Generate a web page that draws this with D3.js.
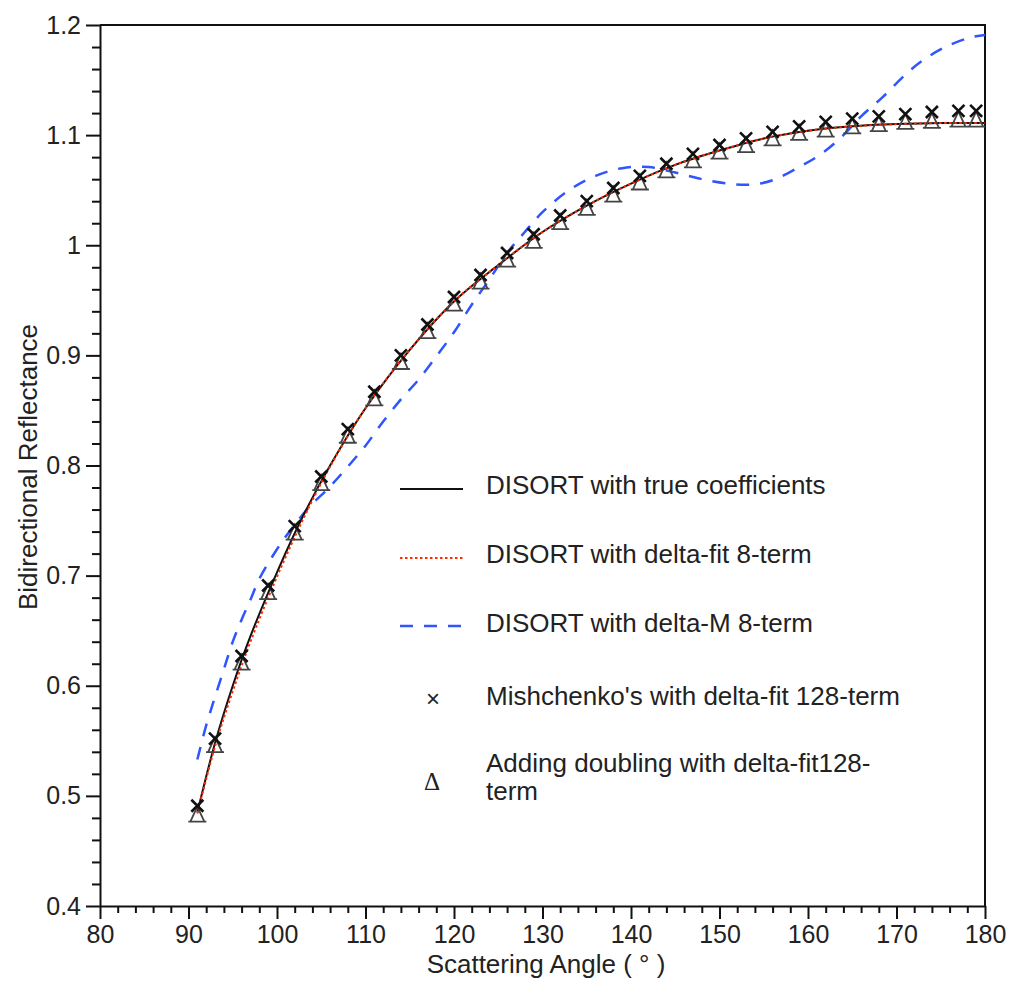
<!DOCTYPE html>
<html lang="en">
<head>
<meta charset="utf-8">
<title>Bidirectional Reflectance</title>
<script src="https://d3js.org/d3.v7.min.js"></script>
<style>
  body { margin: 0; background: #fff; }
  svg text { font-family: "Liberation Sans", Arial, Helvetica, sans-serif; fill: #222; }
</style>
</head>
<body>
<script>
// scattering angles for the markers
var markerAngles = [91, 93, 96, 99, 102, 105, 108, 111, 114, 117, 120, 123, 126, 129, 132, 135,
  138, 141, 144, 147, 150, 153, 156, 159, 162, 165, 168, 171, 174, 177, 179];
// Mishchenko's with delta-fit 128-term (x)
var mishchenko = [0.491, 0.552, 0.627, 0.691, 0.745, 0.790, 0.833, 0.867, 0.900, 0.928, 0.953, 0.973,
  0.993, 1.010, 1.027, 1.040, 1.052, 1.063, 1.074, 1.083, 1.091, 1.097, 1.103, 1.108, 1.112, 1.115,
  1.117, 1.119, 1.121, 1.122, 1.122];
// Adding doubling with delta-fit 128-term (triangle)
var addingDoubling = [0.483, 0.546, 0.621, 0.685, 0.739, 0.784, 0.827, 0.861, 0.894, 0.922, 0.947, 0.967,
  0.987, 1.004, 1.021, 1.034, 1.046, 1.057, 1.068, 1.077, 1.085, 1.091, 1.097, 1.102, 1.105, 1.108,
  1.110, 1.112, 1.113, 1.114, 1.114];

// DISORT with true coefficients
var trueAngles = [91, 93, 95, 97, 100, 103, 106, 110, 115, 120, 125, 130, 135, 140, 145, 150, 155, 160, 165, 170, 175, 180];
var trueValues = [0.485, 0.548, 0.600, 0.645, 0.703, 0.755, 0.800, 0.852, 0.905, 0.949, 0.982, 1.012,
  1.036, 1.056, 1.073, 1.086, 1.097, 1.104, 1.108, 1.110, 1.111, 1.111];
// DISORT with delta-fit 8-term
var fitValues = [0.484, 0.545, 0.595, 0.640, 0.699, 0.752, 0.799, 0.852, 0.905, 0.949, 0.982, 1.012,
  1.036, 1.056, 1.073, 1.086, 1.097, 1.104, 1.108, 1.110, 1.111, 1.111];
// DISORT with delta-M 8-term
var deltaMAngles = [91, 92, 93, 94, 95, 96, 97, 98, 100, 101.5, 103.5, 106, 108, 110, 112, 114, 116, 118,
  120, 122, 124, 126, 128, 130, 133, 136, 139, 142, 145, 148, 151, 153.5, 156, 159, 161.5, 164, 166,
  168.5, 171, 173, 175.5, 178.5, 180];
var deltaMValues = [0.533, 0.564, 0.590, 0.615, 0.640, 0.660, 0.678, 0.697, 0.724, 0.741, 0.761, 0.781,
  0.799, 0.818, 0.840, 0.860, 0.878, 0.899, 0.921, 0.946, 0.969, 0.993, 1.012, 1.030, 1.050, 1.063,
  1.070, 1.071, 1.066, 1.060, 1.056, 1.055, 1.059, 1.071, 1.083, 1.100, 1.117, 1.135, 1.155, 1.168,
  1.180, 1.189, 1.191];

var yTicks = [0.4, 0.5, 0.6, 0.7, 0.8, 0.9, 1.0, 1.1, 1.2];
var yTickLabels = ["0.4", "0.5", "0.6", "0.7", "0.8", "0.9", "1", "1.1", "1.2"];
var xTicks = [80, 90, 100, 110, 120, 130, 140, 150, 160, 170, 180];

var legendNames = ["DISORT with true coefficients", "DISORT with delta-fit 8-term", "DISORT with delta-M 8-term",
  "Mishchenko's with delta-fit 128-term", "Adding doubling with delta-fit128-", "term"];

var w = 1011, h = 981;
var margin = {top: 25, right: 26, bottom: 75, left: 100};
var fontSize = "26px";

var svg = d3.select("body").append("svg").attr("width", w).attr("height", h);

var x = d3.scaleLinear().domain([80, 180]).range([margin.left, w - margin.right]);
var y = d3.scaleLinear().domain([0.4, 1.2]).range([h - margin.bottom, margin.top]);

// frame (top and right)
svg.append("path")
  .attr("d", "M" + x(80) + "," + y(1.2) + "H" + x(180) + "V" + y(0.4))
  .attr("fill", "none").attr("stroke", "#111").attr("stroke-width", 2);

// minor ticks
var yMinor = d3.range(0.42, 1.2, 0.02).filter(function (d) { return Math.abs(d * 10 - Math.round(d * 10)) > 0.01; });
var xMinor = d3.range(82, 180, 2).filter(function (d) { return d % 10 !== 0; });

svg.append("g").attr("transform", "translate(" + margin.left + ",0)")
  .call(d3.axisLeft(y).tickValues(yMinor).tickSize(8).tickFormat(""))
  .call(function (g) { g.select(".domain").remove(); g.selectAll("line").attr("stroke", "#111").attr("stroke-width", 2); });
svg.append("g").attr("transform", "translate(0," + (h - margin.bottom) + ")")
  .call(d3.axisBottom(x).tickValues(xMinor).tickSize(7).tickFormat(""))
  .call(function (g) { g.select(".domain").remove(); g.selectAll("line").attr("stroke", "#111").attr("stroke-width", 2); });

// major axes
var yAxis = svg.append("g").attr("transform", "translate(" + margin.left + ",0)")
  .call(d3.axisLeft(y).tickValues(yTicks).tickSize(14).tickSizeOuter(0).tickPadding(5)
    .tickFormat(function (d, i) { return yTickLabels[i]; }));
var xAxis = svg.append("g").attr("transform", "translate(0," + (h - margin.bottom) + ")")
  .call(d3.axisBottom(x).tickValues(xTicks).tickSize(13).tickSizeOuter(0).tickPadding(6));
[yAxis, xAxis].forEach(function (g) {
  g.select(".domain").attr("stroke", "#111").attr("stroke-width", 2);
  g.selectAll("line").attr("stroke", "#111").attr("stroke-width", 2);
  g.selectAll("text").style("font-size", "25px").attr("fill", "#222")
    .style("font-family", "'Liberation Sans', Arial, sans-serif");
});

// axis titles
svg.append("text")
  .attr("transform", "translate(37," + 467 + ") rotate(-90)")
  .attr("text-anchor", "middle").style("font-size", fontSize)
  .text("Bidirectional Reflectance");
svg.append("text")
  .attr("x", 546).attr("y", 973)
  .attr("text-anchor", "middle").style("font-size", fontSize)
  .text("Scattering Angle ( ° )");

var line = d3.line().curve(d3.curveCatmullRom.alpha(0.5))
  .x(function (d) { return x(d[0]); }).y(function (d) { return y(d[1]); });

function pairs(a, b) { return a.map(function (d, i) { return [d, b[i]]; }); }

svg.append("path").datum(pairs(deltaMAngles, deltaMValues)).attr("d", line)
  .attr("fill", "none").attr("stroke", "#2f55ff").attr("stroke-width", 2.5).attr("stroke-dasharray", "13,11");
svg.append("path").datum(pairs(trueAngles, trueValues)).attr("d", line)
  .attr("fill", "none").attr("stroke", "#111").attr("stroke-width", 2);
svg.append("path").datum(pairs(trueAngles, fitValues)).attr("d", line)
  .attr("fill", "none").attr("stroke", "#ff2a00").attr("stroke-width", 2).attr("stroke-dasharray", "2.5,2.5");

// markers: triangle (adding doubling) and cross (Mishchenko)
svg.append("g").selectAll("path").data(pairs(markerAngles, addingDoubling)).enter().append("path")
  .attr("transform", function (d) { return "translate(" + x(d[0]) + "," + y(d[1]) + ")"; })
  .attr("d", "M0,-8L7,7H-7Z M-9,7H9")
  .attr("fill", "none").attr("stroke", "#444").attr("stroke-width", 1.8);
svg.append("g").selectAll("path").data(pairs(markerAngles, mishchenko)).enter().append("path")
  .attr("transform", function (d) { return "translate(" + x(d[0]) + "," + y(d[1]) + ")"; })
  .attr("d", "M-6,-6L6,6M6,-6L-6,6")
  .attr("fill", "none").attr("stroke", "#111").attr("stroke-width", 2.6);

// legend
var legendY = [489, 558, 626, 698, 768];
var lg = svg.append("g");
lg.append("line").attr("x1", 400).attr("x2", 463).attr("y1", legendY[0]).attr("y2", legendY[0])
  .attr("stroke", "#111").attr("stroke-width", 2);
lg.append("line").attr("x1", 400).attr("x2", 463).attr("y1", legendY[1]).attr("y2", legendY[1])
  .attr("stroke", "#ff2a00").attr("stroke-width", 2).attr("stroke-dasharray", "2.5,2.5");
lg.append("line").attr("x1", 400).attr("x2", 468).attr("y1", legendY[2]).attr("y2", legendY[2])
  .attr("stroke", "#2f55ff").attr("stroke-width", 2.5).attr("stroke-dasharray", "13,11");
lg.append("text").attr("x", 433).attr("y", 707).attr("text-anchor", "middle")
  .style("font-size", "24px").text("×");
lg.append("text").attr("x", 432).attr("y", 790).attr("text-anchor", "middle")
  .style("font-family", "'Liberation Serif', serif").style("font-size", "25px").text("Δ");

var textBase = [494, 563, 632, 705, 772, 800];
legendNames.forEach(function (name, i) {
  lg.append("text").attr("x", 486).attr("y", textBase[i]).style("font-size", fontSize).text(name);
});
</script>
</body>
</html>
